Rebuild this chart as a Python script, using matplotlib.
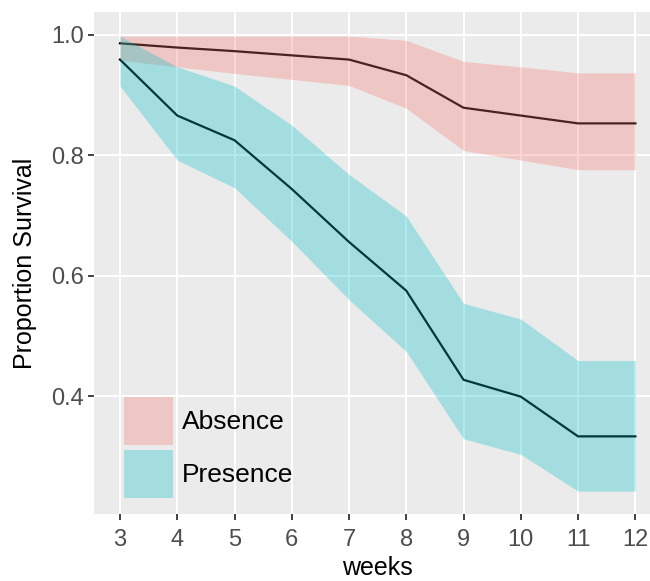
import matplotlib.pyplot as plt
from matplotlib.patches import Patch

plt.rcParams['font.family'] = ['Liberation Sans', 'DejaVu Sans']

weeks = [3, 4, 5, 6, 7, 8, 9, 10, 11, 12]

absence_mean = [0.986, 0.979, 0.973, 0.966, 0.959, 0.933, 0.879, 0.866, 0.853, 0.853]
absence_upper = [0.998, 0.998, 0.998, 0.998, 0.998, 0.991, 0.956, 0.947, 0.937, 0.937]
absence_lower = [0.958, 0.947, 0.936, 0.926, 0.916, 0.878, 0.808, 0.792, 0.776, 0.776]

presence_mean = [0.959, 0.866, 0.825, 0.744, 0.656, 0.575, 0.427, 0.399, 0.333, 0.333]
presence_upper = [0.998, 0.947, 0.915, 0.850, 0.768, 0.699, 0.554, 0.528, 0.459, 0.459]
presence_lower = [0.915, 0.792, 0.746, 0.657, 0.560, 0.474, 0.329, 0.303, 0.242, 0.242]

groups = ['Absence', 'Presence']
fills = ['#F8766D', '#00BFC4']
ALPHA = 0.3

fig = plt.figure(figsize=(6.5, 5.81), dpi=100)
ax = fig.add_axes([0.145, 0.1153, 0.872, 0.864])
ax.set_facecolor('#EBEBEB')

# lines first, ribbons on top (as in the ggplot layer order)
ax.plot(weeks, absence_mean, color='black', lw=1.6, zorder=2)
ax.plot(weeks, presence_mean, color='black', lw=1.6, zorder=2)
ax.fill_between(weeks, absence_lower, absence_upper, color=fills[0], alpha=ALPHA, lw=0, zorder=3)
ax.fill_between(weeks, presence_lower, presence_upper, color=fills[1], alpha=ALPHA, lw=0, zorder=3)

ax.set_xlim(2.55, 12.45)
ax.set_ylim(0.204, 1.038)
ax.set_xticks(weeks)
ax.set_yticks([0.4, 0.6, 0.8, 1.0])
ax.set_yticklabels(['0.4', '0.6', '0.8', '1.0'])
ax.grid(True, color='white', lw=1.4)
ax.set_axisbelow(True)
for s in ax.spines.values():
    s.set_visible(False)
ax.tick_params(colors='#333333', labelcolor='#4D4D4D', labelsize=17, length=4.5, width=1.3, pad=3)
ax.tick_params(axis='x', pad=6.5)

ax.set_xlabel('weeks', fontsize=18, color='black', labelpad=3.5)
ax.set_ylabel('Proportion Survival', fontsize=18, color='black', labelpad=10)

handles = [Patch(facecolor=c, alpha=ALPHA, edgecolor='none') for c in fills]
ax.legend(handles, groups, loc='lower left', bbox_to_anchor=(0.0524, 0.032), frameon=False,
          fontsize=19, handlelength=1.86, handleheight=2.42, handletextpad=0.34,
          labelspacing=0.19, borderpad=0, borderaxespad=0)

fig.savefig('out.png', dpi=100)
